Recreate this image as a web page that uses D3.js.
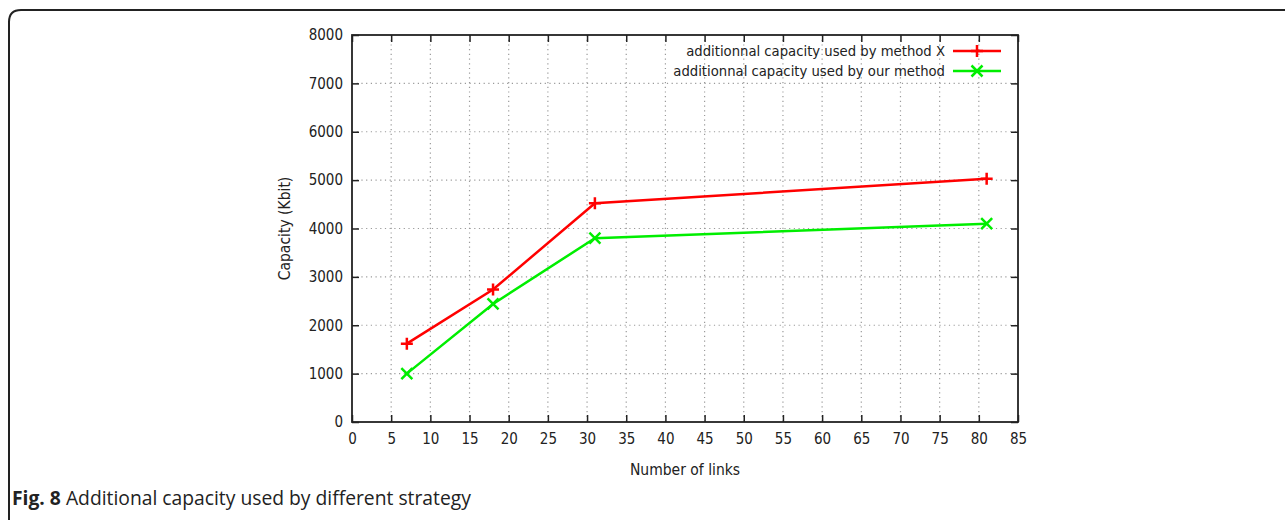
<!DOCTYPE html>
<html>
<head>
<meta charset="utf-8">
<script src="https://cdn.jsdelivr.net/npm/d3@7"></script>
<style>
  body { margin: 0; background: #fff; }
  .tick text { font-family: "DejaVu Sans Condensed", "DejaVu Sans", sans-serif; font-size: 15px; fill: #222; }
</style>
</head>
<body>
<script>
// data
var links = [7, 18, 31, 81];
var methodX = [1620, 2740, 4520, 5030];
var ourMethod = [1000, 2440, 3800, 4100];
var seriesNames = ["additionnal capacity used by method X", "additionnal capacity used by our method"];
var seriesColors = ["#ff0000", "#00ee00"];
var xTicks = d3.range(0, 86, 5);
var yTicks = d3.range(0, 8001, 1000);

var W = 1285, H = 520;
var plot = { left: 352, right: 1018, top: 35, bottom: 422 };
var font = "DejaVu Sans Condensed, DejaVu Sans, sans-serif";

var svg = d3.select("body").append("svg")
  .attr("width", W)
  .attr("height", H);

// outer figure frame (rounded top-left corner, open on right and bottom)
svg.append("path")
  .attr("d", "M9,520 L9,22 Q9,10 21,10 L1285,10")
  .attr("fill", "none")
  .attr("stroke", "#222")
  .attr("stroke-width", 2);

var x = d3.scaleLinear().domain([0, 85]).range([plot.left, plot.right]);
var y = d3.scaleLinear().domain([0, 8000]).range([plot.bottom, plot.top]);

//
// grid
//
var grid = svg.append("g").attr("class", "grid")
  .attr("stroke", "#9a9a9a")
  .attr("stroke-width", 1.2)
  .attr("stroke-dasharray", "1.2,3.5");
grid.selectAll("line.gx")
  .data(xTicks.filter(function(d) { return d > 0 && d < 85; }))
  .enter().append("line")
  .attr("x1", function(d) { return x(d); })
  .attr("x2", function(d) { return x(d); })
  .attr("y1", plot.top)
  .attr("y2", plot.bottom);
grid.selectAll("line.gy")
  .data(yTicks.filter(function(d) { return d > 0 && d < 8000; }))
  .enter().append("line")
  .attr("y1", function(d) { return y(d); })
  .attr("y2", function(d) { return y(d); })
  .attr("x1", plot.left)
  .attr("x2", plot.right);

//
// axes (gnuplot style: inward ticks, mirrored)
//
var tk = 7;
svg.append("g")
  .attr("transform", "translate(0," + plot.bottom + ")")
  .call(d3.axisBottom(x).tickValues(xTicks).tickSize(-tk).tickPadding(11).tickSizeOuter(0))
  .call(function(g) { g.select(".domain").remove(); });
svg.append("g")
  .attr("transform", "translate(" + plot.left + ",0)")
  .call(d3.axisLeft(y).tickValues(yTicks).tickFormat(d3.format("d")).tickSize(-tk).tickPadding(9).tickSizeOuter(0))
  .call(function(g) { g.select(".domain").remove(); });
svg.append("g")
  .attr("transform", "translate(0," + plot.top + ")")
  .call(d3.axisTop(x).tickValues(xTicks).tickSize(-tk).tickFormat("").tickSizeOuter(0))
  .call(function(g) { g.select(".domain").remove(); });
svg.append("g")
  .attr("transform", "translate(" + plot.right + ",0)")
  .call(d3.axisRight(y).tickValues(yTicks).tickSize(-tk).tickFormat("").tickSizeOuter(0))
  .call(function(g) { g.select(".domain").remove(); });
svg.selectAll(".tick line").attr("stroke", "#222").attr("stroke-width", 1.5);

svg.append("rect")
  .attr("x", plot.left)
  .attr("y", plot.top)
  .attr("width", plot.right - plot.left)
  .attr("height", plot.bottom - plot.top)
  .attr("fill", "none")
  .attr("stroke", "#222")
  .attr("stroke-width", 1.8);

// axis titles
svg.append("text")
  .text("Number of links")
  .attr("x", (plot.left + plot.right) / 2)
  .attr("y", 475)
  .attr("text-anchor", "middle")
  .attr("font-family", font)
  .attr("font-size", 15.5)
  .attr("fill", "#222");
svg.append("text")
  .text("Capacity (Kbit)")
  .attr("transform", "translate(290," + ((plot.top + plot.bottom) / 2) + ") rotate(-90)")
  .attr("text-anchor", "middle")
  .attr("font-family", font)
  .attr("font-size", 15.5)
  .attr("fill", "#222");

//
// series
//
var series = [methodX, ourMethod];
var line = d3.line()
  .x(function(d) { return x(d[0]); })
  .y(function(d) { return y(d[1]); });

var plusPath = function(cx, cy, r) {
  return "M" + (cx - r) + "," + cy + "H" + (cx + r) + "M" + cx + "," + (cy - r) + "V" + (cy + r);
};
var crossPath = function(cx, cy, r) {
  return "M" + (cx - r) + "," + (cy - r) + "L" + (cx + r) + "," + (cy + r) +
    "M" + (cx - r) + "," + (cy + r) + "L" + (cx + r) + "," + (cy - r);
};
var markers = [plusPath, crossPath];

series.forEach(function(vals, i) {
  var pts = links.map(function(l, j) { return [l, vals[j]]; });
  svg.append("path")
    .datum(pts)
    .attr("d", line)
    .attr("fill", "none")
    .attr("stroke", seriesColors[i])
    .attr("stroke-width", 2.5);
  svg.selectAll("path.m" + i)
    .data(pts)
    .enter().append("path")
    .attr("class", "m" + i)
    .attr("d", function(d) { return markers[i](x(d[0]), y(d[1]), i === 0 ? 6 : 5.5); })
    .attr("stroke", seriesColors[i])
    .attr("stroke-width", 2.5);
});

//
// legend
//
seriesNames.forEach(function(name, i) {
  var ly = 51 + i * 20;
  svg.append("text")
    .text(name)
    .attr("x", 945)
    .attr("y", ly + 5)
    .attr("text-anchor", "end")
    .attr("font-family", font)
    .attr("font-size", 14.7)
    .attr("fill", "#222");
  svg.append("line")
    .attr("x1", 953).attr("x2", 1001)
    .attr("y1", ly).attr("y2", ly)
    .attr("stroke", seriesColors[i])
    .attr("stroke-width", 2.5);
  svg.append("path")
    .attr("d", markers[i](977, ly, i === 0 ? 6 : 5.5))
    .attr("stroke", seriesColors[i])
    .attr("stroke-width", 2.5);
});

// caption
var cap = svg.append("text")
  .attr("x", 12)
  .attr("y", 505)
  .attr("font-family", "Open Sans, sans-serif")
  .attr("font-size", 19.3)
  .attr("fill", "#222");
cap.append("tspan").attr("font-weight", "bold").text("Fig. 8");
cap.append("tspan").text(" Additional capacity used by different strategy");
</script>
</body>
</html>
